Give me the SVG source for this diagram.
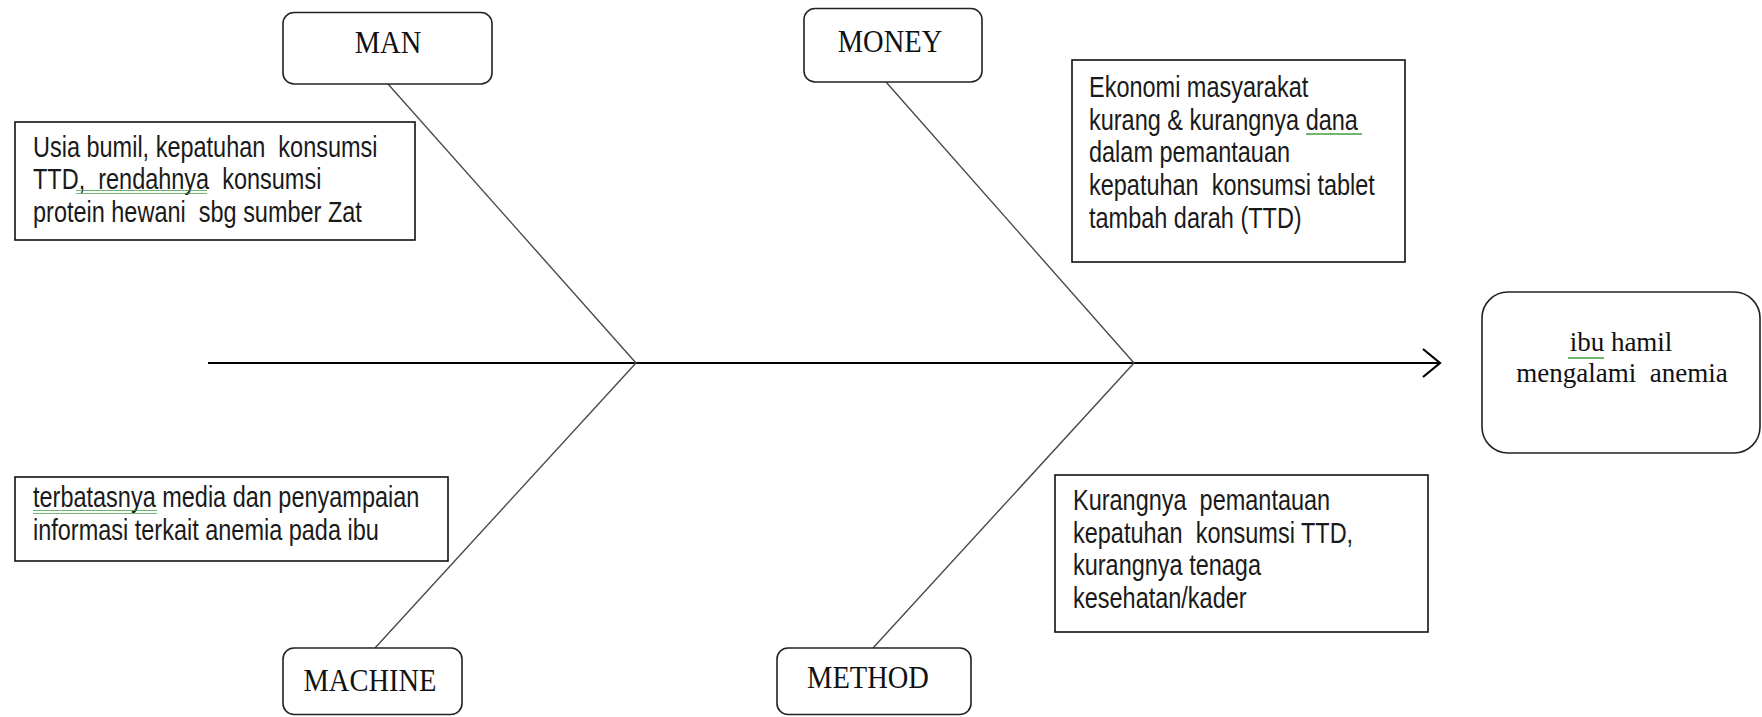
<svg xmlns="http://www.w3.org/2000/svg" width="1762" height="717" viewBox="0 0 1762 717">
<style>
.cat{fill:#fff;stroke:#222;stroke-width:1.6}
.desc{fill:#fff;stroke:#111;stroke-width:1.6}
.serif{font-family:"Liberation Serif","Times New Roman",serif;font-size:31px;fill:#111}
.eff{font-family:"Liberation Serif","Times New Roman",serif;font-size:27px;fill:#111}
.sans{font-family:"Liberation Sans",Arial,sans-serif;font-size:29px;fill:#1a1a1a}
.bone{stroke:#4a4a4a;stroke-width:1.4;fill:none}
.spine{stroke:#000;stroke-width:2.2;fill:none}
</style>
<defs>
<pattern id="sq" width="4" height="4" patternUnits="userSpaceOnUse">
<path d="M0,1 L1,3 L2,1 L3,3 L4,1" fill="none" stroke="#3a9b3a" stroke-width="0.9"/>
</pattern>
</defs>
<rect width="1762" height="717" fill="#fff"/>
<g id="connectors">
<line class="spine" x1="208" y1="363" x2="1440" y2="363"/>
<polyline class="spine" points="1423,349 1440,363 1423,377" stroke-width="1.6"/>
<line class="bone" x1="388" y1="84" x2="636" y2="363"/>
<line class="bone" x1="636" y1="363" x2="375" y2="648"/>
<line class="bone" x1="886" y1="82" x2="1134" y2="363"/>
<line class="bone" x1="1134" y1="363" x2="873" y2="648"/>
</g>
<g id="man">
<rect class="cat" x="283" y="12.5" width="209" height="71.5" rx="11"/>
<g transform="translate(388,53) scale(0.92,1)"><text class="serif" x="0" y="0" text-anchor="middle">MAN</text></g>
</g>
<g id="money">
<rect class="cat" x="804" y="8.5" width="178" height="73.5" rx="11"/>
<g transform="translate(890,52) scale(0.92,1)"><text class="serif" x="0" y="0" text-anchor="middle">MONEY</text></g>
</g>
<g id="machine">
<rect class="cat" x="283" y="648" width="179" height="66.5" rx="11"/>
<g transform="translate(370,691) scale(0.92,1)"><text class="serif" x="0" y="0" text-anchor="middle">MACHINE</text></g>
</g>
<g id="method">
<rect class="cat" x="777" y="648" width="194" height="66.5" rx="11"/>
<g transform="translate(868,688) scale(0.92,1)"><text class="serif" x="0" y="0" text-anchor="middle">METHOD</text></g>
</g>
<g id="effect">
<rect class="cat" x="1482" y="292" width="278" height="161" rx="26"/>
<text class="eff" x="1621" y="351" text-anchor="middle">ibu hamil</text>
<text class="eff" x="1622" y="382" text-anchor="middle" xml:space="preserve">mengalami  anemia</text>
<rect x="1568" y="355" width="36" height="4" fill="url(#sq)"/>
</g>
<g id="man-cause">
<rect class="desc" x="15" y="122" width="400" height="118"/>
<g transform="translate(33,0) scale(0.81,1)">
<text class="sans" x="0" y="157" xml:space="preserve">Usia bumil, kepatuhan  konsumsi</text>
<text class="sans" x="0" y="189.5" xml:space="preserve">TTD,  rendahnya  konsumsi</text>
<text class="sans" x="0" y="222" xml:space="preserve">protein hewani  sbg sumber Zat</text>
</g>
<rect x="76" y="190" width="131" height="4" fill="url(#sq)"/>
</g>
<g id="machine-cause">
<rect class="desc" x="15" y="477" width="433" height="84"/>
<g transform="translate(33,0) scale(0.81,1)">
<text class="sans" x="0" y="507">terbatasnya media dan penyampaian</text>
<text class="sans" x="0" y="540">informasi terkait anemia pada ibu</text>
</g>
<rect x="33" y="510" width="124" height="4" fill="url(#sq)"/>
</g>
<g id="money-cause">
<rect class="desc" x="1072" y="60" width="333" height="202"/>
<g transform="translate(1089,0) scale(0.81,1)">
<text class="sans" x="0" y="97">Ekonomi masyarakat</text>
<text class="sans" x="0" y="130">kurang &amp; kurangnya dana</text>
<text class="sans" x="0" y="162">dalam pemantauan</text>
<text class="sans" x="0" y="195" xml:space="preserve">kepatuhan  konsumsi tablet</text>
<text class="sans" x="0" y="228">tambah darah (TTD)</text>
</g>
<rect x="1306" y="133" width="56" height="4" fill="url(#sq)"/>
</g>
<g id="method-cause">
<rect class="desc" x="1055" y="475" width="373" height="157"/>
<g transform="translate(1073,0) scale(0.81,1)">
<text class="sans" x="0" y="510" xml:space="preserve">Kurangnya  pemantauan</text>
<text class="sans" x="0" y="543" xml:space="preserve">kepatuhan  konsumsi TTD,</text>
<text class="sans" x="0" y="575">kurangnya tenaga</text>
<text class="sans" x="0" y="608">kesehatan/kader</text>
</g>
</g>
</svg>
